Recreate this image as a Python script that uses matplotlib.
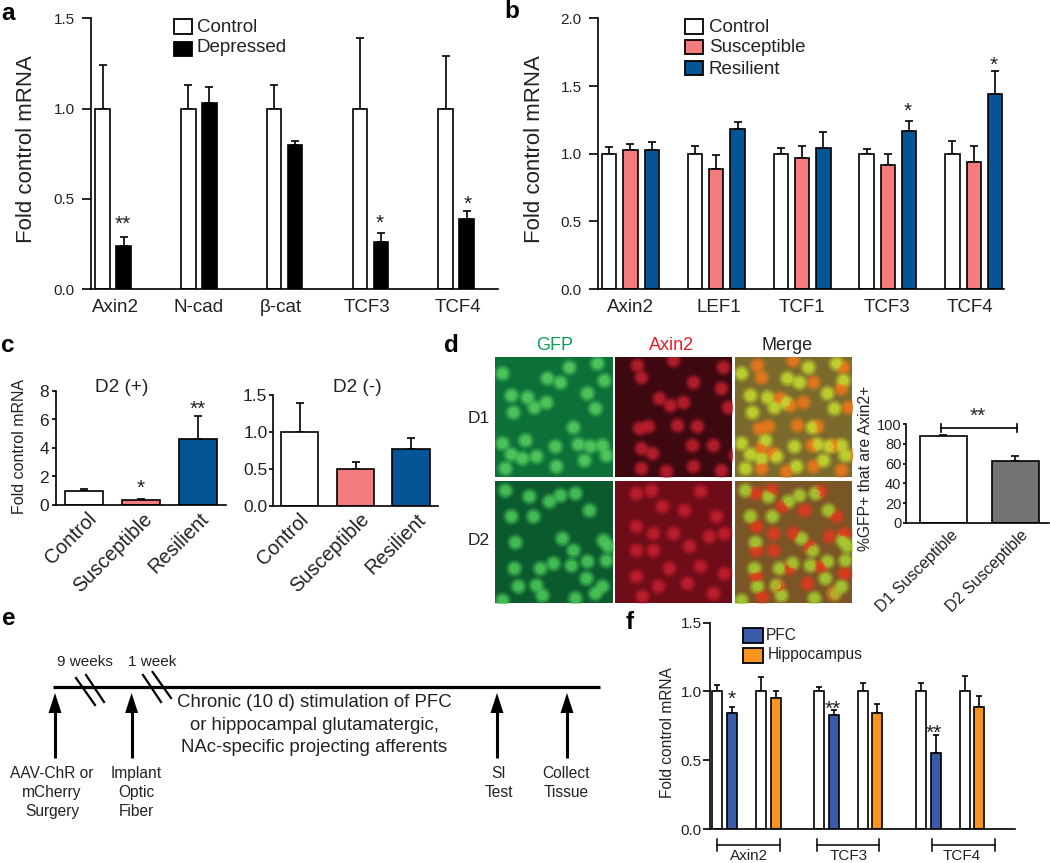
import matplotlib
matplotlib.use('Agg')
import matplotlib.pyplot as plt
from matplotlib.patches import Rectangle, Polygon
import numpy as np

plt.rcParams['font.family'] = ['Liberation Sans', 'DejaVu Sans']

W, H = 1050, 863

# panel a
a_genes = ['Axin2', 'N-cad', 'β-cat', 'TCF3', 'TCF4']
a_control = [1.0, 1.0, 1.0, 1.0, 1.0]
a_control_top = [1.24, 1.13, 1.13, 1.39, 1.29]
a_depressed = [0.24, 1.03, 0.80, 0.26, 0.39]
a_depressed_top = [0.29, 1.12, 0.82, 0.31, 0.43]

# panel b
b_genes = ['Axin2', 'LEF1', 'TCF1', 'TCF3', 'TCF4']
b_control = [1.0, 1.0, 1.0, 1.0, 1.0]
b_control_top = [1.05, 1.055, 1.04, 1.035, 1.095]
b_susceptible = [1.03, 0.89, 0.97, 0.92, 0.94]
b_susceptible_top = [1.075, 0.99, 1.06, 0.995, 1.06]
b_resilient = [1.03, 1.18, 1.04, 1.165, 1.44]
b_resilient_top = [1.09, 1.235, 1.16, 1.24, 1.61]

# panel c
c_groups = ['Control', 'Susceptible', 'Resilient']
c_plus = [1.0, 0.38, 4.6]
c_plus_top = [1.13, 0.43, 6.26]
c_minus = [1.0, 0.5, 0.765]
c_minus_top = [1.39, 0.585, 0.915]

# panel d
d_groups = ['D1 Susceptible', 'D2 Susceptible']
d_values = [88, 63]
d_top = [89, 68]

# panel d micrographs, cell centres (zoomed px in each panel)
gfp_d1 = [(60, 160), (130, 230), (185, 175), (220, 185), (320, 130), (340, 180), (295, 220), (150, 260),
          (182, 245), (85, 225), (315, 265), (255, 322), (125, 360), (270, 372), (303, 378), (335, 375),
          (205, 378), (155, 408), (85, 403), (60, 370), (115, 415), (210, 440), (70, 445), (345, 405),
          (285, 420), (90, 275), (245, 140)]
axin_d1 = [(72, 170), (62, 135), (217, 185), (292, 205), (297, 140), (122, 235), (187, 245), (152, 255),
           (172, 315), (67, 325), (92, 320), (227, 320), (312, 260), (72, 385), (102, 400), (272, 375),
           (212, 375), (332, 405), (72, 445), (217, 440), (142, 455), (292, 450), (162, 120), (352, 290)]
gfp_d2 = [(70, 510), (135, 530), (220, 525), (262, 520), (300, 570), (85, 590), (145, 590), (190, 545),
          (225, 655), (97, 668), (338, 660), (352, 680), (255, 690), (295, 725), (200, 730), (95, 745),
          (165, 745), (345, 720), (105, 800), (155, 795), (335, 800), (290, 775), (250, 735), (170, 825),
          (260, 835), (315, 820), (60, 840)]
axin_d2 = [(100, 510), (60, 520), (235, 515), (130, 560), (190, 570), (280, 590), (60, 620), (105, 640),
           (160, 640), (260, 650), (300, 640), (60, 690), (205, 680), (105, 690), (150, 745), (235, 740),
           (300, 760), (60, 770), (200, 790), (120, 800), (270, 820), (75, 830)]

# panel f
f_genes = ['Axin2', 'TCF3', 'TCF4']
f_ctrl1 = [1.0, 1.0, 1.0]
f_ctrl1_top = [1.05, 1.03, 1.06]
f_pfc = [0.84, 0.83, 0.55]
f_pfc_top = [0.89, 0.862, 0.682]
f_ctrl2 = [1.0, 1.0, 1.0]
f_ctrl2_top = [1.103, 1.06, 1.115]
f_hip = [0.95, 0.845, 0.89]
f_hip_top = [1.0, 0.906, 0.965]

PINK = '#F47C7C'
BLUE = '#055495'
FBLUE = '#3A5BA8'
ORANGE = '#F7941E'
GREY = '#737373'
TXT = '#222222'

fig = plt.figure(figsize=(W / 100, H / 100), dpi=100)


def px_axes(left, top, right, bottom):
    ax = fig.add_axes([left / W, 1 - bottom / H, (right - left) / W, (bottom - top) / H])
    ax.set_xlim(left, right)
    return ax


def style_axes(ax, ymax, yticks, fmt, size, lw=1.2, tick=6.3, pad=5.5):
    ax.set_ylim(0, ymax)
    ax.set_yticks(yticks)
    ax.set_yticklabels([fmt % t for t in yticks], fontsize=size, color=TXT)
    ax.spines['top'].set_visible(False)
    ax.spines['right'].set_visible(False)
    ax.spines['left'].set_linewidth(lw)
    ax.spines['bottom'].set_linewidth(lw)
    ax.tick_params(axis='y', length=tick, width=lw, pad=pad)
    ax.patch.set_alpha(0)


def bars(ax, xs, vals, tops, width, color, lw=1.2, cap=3):
    ax.bar(xs, vals, width=width, facecolor=color, edgecolor='black', linewidth=lw, zorder=2)
    errs = [t - v for t, v in zip(tops, vals)]
    ax.errorbar(xs, vals, yerr=[np.zeros(len(xs)), errs], fmt='none', ecolor='black',
                elinewidth=lw, capsize=cap, capthick=lw, zorder=1)


# panel a
ax = px_axes(91, 18.5, 498, 289)
style_axes(ax, 1.5, [0, 0.5, 1.0, 1.5], '%.1f', 11)
c = 113 + 85.75 * np.arange(5)
bars(ax, c - 10.5, a_control, a_control_top, 14.5, 'white')
bars(ax, c + 10.5, a_depressed, a_depressed_top, 14.5, 'black')
ax.set_xticks([115, 199, 281, 367, 458])
ax.set_xticklabels(a_genes, fontsize=13.5, color=TXT)
ax.tick_params(axis='x', length=0, pad=7.5)

# panel b
ax = px_axes(598, 18.5, 1004, 289)
style_axes(ax, 2.0, [0, 0.5, 1.0, 1.5, 2.0], '%.1f', 11)
c = 630.5 + 85.8 * np.arange(5)
bars(ax, c - 21.3, b_control, b_control_top, 14.3, 'white')
bars(ax, c, b_susceptible, b_susceptible_top, 14.3, PINK)
bars(ax, c + 21.3, b_resilient, b_resilient_top, 14.3, BLUE)
ax.set_xticks([630.5, 719, 802, 887, 969.5])
ax.set_xticklabels(b_genes, fontsize=13.5, color=TXT)
ax.tick_params(axis='x', length=0, pad=7.5)

# panel c left
ax = px_axes(56, 391, 226, 505)
style_axes(ax, 8, [0, 2, 4, 6, 8], '%d', 12.5, tick=3, pad=2)
bars(ax, [84, 140.5, 197.5], c_plus, c_plus_top, 38, 'white')
ax.patches[1].set_facecolor(PINK)
ax.patches[2].set_facecolor(BLUE)
ax.set_xticks([87, 143, 199])
ax.set_xticklabels(c_groups, fontsize=14.3, color=TXT, rotation=45, ha='right', rotation_mode='anchor')
ax.tick_params(axis='x', length=0, pad=3)

# panel c right
ax = px_axes(273, 394.7, 438, 505.7)
style_axes(ax, 1.5, [0, 0.5, 1.0, 1.5], '%.1f', 12.5, tick=3, pad=1)
bars(ax, [299.5, 355.5, 411], c_minus, c_minus_top, 37.5, 'white')
ax.patches[1].set_facecolor(PINK)
ax.patches[2].set_facecolor(BLUE)
ax.set_xticks([299, 360, 416])
ax.set_xticklabels(c_groups, fontsize=14.3, color=TXT, rotation=45, ha='right', rotation_mode='anchor')
ax.tick_params(axis='x', length=0, pad=3)

# panel d bars
ax = px_axes(905.5, 424, 1049, 523)
style_axes(ax, 100, [0, 20, 40, 60, 80, 100], '%d', 10.5, tick=2, pad=1)
bars(ax, [943, 1015], d_values, d_top, 47, 'white')
ax.patches[1].set_facecolor(GREY)
ax.set_xticks([950, 1020])
ax.set_xticklabels(d_groups, fontsize=11.6, color=TXT, rotation=45, ha='right', rotation_mode='anchor')
ax.tick_params(axis='x', length=0, pad=3)


# panel d micrographs
def micro(left, top, right, bottom, bg, layers, y0, y1):
    m = px_axes(left, top, right, bottom)
    m.set_xlim(0, 323)
    m.set_ylim(y1, y0)
    m.set_facecolor(bg)
    m.set_xticks([])
    m.set_yticks([])
    for s in m.spines.values():
        s.set_visible(False)
    for cells, col, xoff, yoff in layers:
        xs = [p[0] + xoff for p in cells]
        ys = [p[1] + yoff for p in cells]
        m.scatter(xs, ys, s=170, color=col, alpha=0.2, linewidths=0, zorder=2)
        m.scatter(xs, ys, s=100, color=col, alpha=0.45, linewidths=0, zorder=3)
        m.scatter(xs, ys, s=45, color=col, alpha=0.7, linewidths=0, zorder=4)


micro(495, 356.7, 613, 477, '#0C7038', [(gfp_d1, '#55CF60', -42, 0)], 110, 472)
micro(614.5, 356.7, 732, 477, '#3D0810', [(axin_d1, '#C2202E', 0, 0)], 110, 472)
micro(734.5, 356.7, 852, 477, '#7A6B2C', [(axin_d1, '#F0781A', 0, 0), (gfp_d1, '#C6DC2E', -42, 0)], 110, 472)
micro(495, 481, 613, 603, '#0A5A2E', [(gfp_d2, '#4CCB5A', -42, 0)], 484, 850)
micro(614.5, 481, 732, 603, '#6E0C18', [(axin_d2, '#C4202E', 0, 0)], 484, 850)
micro(734.5, 481, 852, 603, '#7A5526', [(axin_d2, '#E23A1E', 0, 0), (gfp_d2, '#A8D030', -42, 0)], 484, 850)

# panel f
ax = px_axes(710, 622.7, 1015, 829)
style_axes(ax, 1.5, [0, 0.5, 1.0, 1.5], '%.1f', 11, tick=5, pad=1)
c = 717 + 101.8 * np.arange(3)
bars(ax, c, f_ctrl1, f_ctrl1_top, 10, 'white', cap=2.5)
bars(ax, c + 15, f_pfc, f_pfc_top, 10, FBLUE, cap=2.5)
bars(ax, c + 44, f_ctrl2, f_ctrl2_top, 10, 'white', cap=2.5)
bars(ax, c + 58.5, f_hip, f_hip_top, 10, ORANGE, cap=2.5)
ax.set_xticks([])

# everything else goes on a full figure overlay in pixels
ov = fig.add_axes([0, 0, 1, 1])
ov.set_xlim(0, W)
ov.set_ylim(H, 0)
ov.axis('off')
ov.patch.set_alpha(0)


def label(x, y, s, size, **kw):
    kw.setdefault('ha', 'center')
    kw.setdefault('va', 'center')
    kw.setdefault('color', TXT)
    ov.text(x, y, s, fontsize=size, **kw)


def star(x, y, s):
    ov.text(x, y + 12, s, fontsize=15, ha='center', va='baseline', color=TXT)


def swatch(x0, y0, x1, y1, col):
    ov.add_patch(Rectangle((x0, y0), x1 - x0, y1 - y0, facecolor=col, edgecolor='black', linewidth=1.3))


# panel letters
for x, y, s in [(1, 13, 'a'), (504, 12, 'b'), (1, 345, 'c'), (444, 345, 'd'), (2, 618, 'e'), (626, 622, 'f')]:
    label(x, y, s, 17.5, fontweight='bold', color='black', ha='left')

# y labels
label(27, 149, 'Fold control mRNA', 16, rotation=90)
label(535, 149, 'Fold control mRNA', 16, rotation=90)
label(20, 446, 'Fold control mRNA', 11.5, rotation=90)
label(866, 468, '%GFP+ that are Axin2+', 11.3, rotation=90)
label(668, 733, 'Fold control mRNA', 11.2, rotation=90)

# legends
swatch(174, 19.5, 192, 34, 'white')
swatch(174, 42, 192, 56.5, 'black')
label(197, 27, 'Control', 13.5, ha='left')
label(197, 48, 'Depressed', 13.5, ha='left')
swatch(685, 19.5, 703, 34, 'white')
swatch(685, 40, 703, 54, PINK)
swatch(685, 61, 703, 75.5, BLUE)
label(709, 27, 'Control', 13.5, ha='left')
label(709, 47, 'Susceptible', 13.5, ha='left')
label(709, 69, 'Resilient', 13.5, ha='left')
swatch(743, 628, 763, 643, FBLUE)
swatch(743, 648, 763, 663, ORANGE)
label(766, 635, 'PFC', 11.2, ha='left')
label(768, 654, 'Hippocampus', 11.2, ha='left')

# significance stars
for x, y, s in [(123, 218, '**'), (380, 217, '*'), (468, 198, '*'), (908, 105, '*'), (994, 59, '*'),
                (198, 403, '**'), (141, 482, '*'), (977.5, 410, '**'),
                (732, 693, '*'), (833, 703, '**'), (934, 727, '**')]:
    star(x, y, s)

# c titles, d headers
label(122, 387, 'D2 (+)', 13.7)
label(357, 387, 'D2 (-)', 13.7)
label(555, 345, 'GFP', 13, color='#0F9D58')
label(672, 345, 'Axin2', 13, color='#ED1C24')
label(787, 345, 'Merge', 13)
label(468, 418, 'D1', 12.5, ha='left')
label(468, 540, 'D2', 12.5, ha='left')

# d bracket
ov.plot([941, 1017], [428, 428], color='black', lw=1.2)
ov.plot([941, 941], [424, 432], color='black', lw=1.2)
ov.plot([1017, 1017], [424, 432], color='black', lw=1.2)

# f brackets
for x0, x1, xt, s in zip([717, 817, 932], [780, 879, 995], [749, 849, 962], f_genes):
    ov.plot([x0, x1], [845, 845], color='black', lw=1.1)
    ov.plot([x0, x0], [839, 851], color='black', lw=1.1)
    ov.plot([x1, x1], [839, 851], color='black', lw=1.1)
    label(xt, 855.5, s, 11)

# panel e timeline
ov.plot([52.6, 600], [687, 687], color='black', lw=2.3, solid_capstyle='butt')
for x0, y0, x1, y1 in [(76, 678, 95, 705), (86, 675, 104, 702), (143, 675, 161, 702), (152.6, 672, 171, 698)]:
    ov.plot([x0, x1], [y0, y1], color='black', lw=1.6)
for x in [55, 131.6, 497, 567]:
    ov.plot([x, x], [708, 758], color='black', lw=2.2, solid_capstyle='butt')
    ov.add_patch(Polygon([(x, 693), (x - 6.5, 713), (x + 6.5, 713)], closed=True, facecolor='black', edgecolor='none'))
label(85, 662, '9 weeks', 11)
label(152.6, 662, '1 week', 11)
for y, s in zip([702, 725, 747], ['Chronic (10 d) stimulation of PFC', 'or hippocampal glutamatergic,',
                                  'NAc-specific projecting afferents']):
    label(314, y, s, 13.4)
for x, lines in [(52, ['AAV-ChR or', 'mCherry', 'Surgery']), (136, ['Implant', 'Optic', 'Fiber']),
                 (499, ['SI', 'Test']), (566, ['Collect', 'Tissue'])]:
    for y, s in zip([773, 792, 811], lines):
        label(x, y, s, 11.2)

fig.savefig('out.png', dpi=100)
